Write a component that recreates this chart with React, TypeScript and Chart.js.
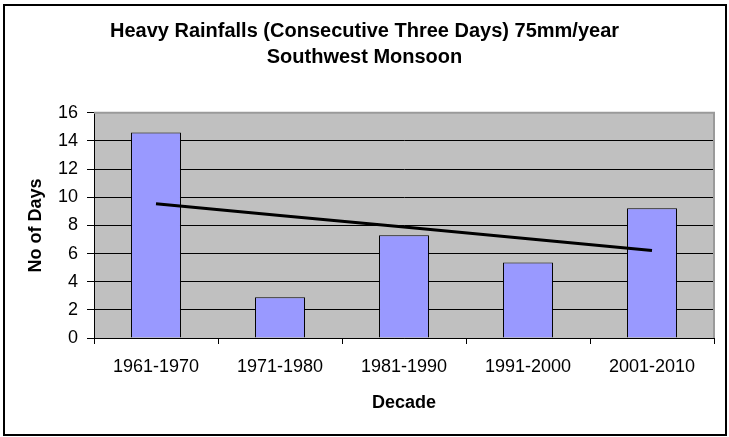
import React, { useEffect, useRef } from "react";
import { Chart, registerables } from "chart.js";

Chart.register(...registerables);

const decades = ["1961-1970", "1971-1980", "1981-1990", "1991-2000", "2001-2010"];
const heavyRainDays = [14.6, 2.9, 7.3, 5.36, 9.22];
const trendDays = [9.54, 8.71, 7.88, 7.05, 6.22];
const titleLines = ["Heavy Rainfalls (Consecutive Three Days) 75mm/year", "Southwest Monsoon"];
const xTitle = "Decade";
const yTitle = "No of Days";

const FONT = "'Liberation Sans', Arial, Helvetica, sans-serif";

const plotBg = {
  id: "plotBg",
  beforeDraw(chart: any) {
    const { ctx, chartArea } = chart;
    ctx.save();
    ctx.fillStyle = "#c0c0c0";
    ctx.fillRect(chartArea.left, chartArea.top, chartArea.right - chartArea.left, chartArea.bottom - chartArea.top);
    ctx.restore();
  },
  beforeDatasetsDraw(chart: any) {
    const { ctx, chartArea } = chart;
    ctx.save();
    ctx.strokeStyle = "#9a9a9a";
    ctx.lineWidth = 2;
    ctx.beginPath();
    ctx.moveTo(chartArea.left, chartArea.top);
    ctx.lineTo(chartArea.right, chartArea.top);
    ctx.lineTo(chartArea.right, chartArea.bottom);
    ctx.stroke();
    ctx.restore();
  },
};

export default function App() {
  const ref = useRef<HTMLCanvasElement | null>(null);

  useEffect(() => {
    document.body.style.margin = "0";
    const canvas = ref.current;
    if (!canvas) return;
    const chart = new Chart(canvas, {
      type: "bar",
      data: {
        labels: decades,
        datasets: [
          {
            type: "line",
            data: trendDays,
            borderColor: "#000",
            borderWidth: 3,
            pointRadius: 0,
            fill: false,
            order: 0,
          } as any,
          {
            type: "bar",
            data: heavyRainDays,
            backgroundColor: "#9999ff",
            borderColor: "#000",
            borderWidth: 1,
            categoryPercentage: 1,
            barPercentage: 0.403,
            order: 1,
          },
        ],
      },
      options: {
        responsive: false,
        animation: false,
        layout: { padding: { left: 0, right: 0, top: 0, bottom: 0 } },
        plugins: {
          legend: { display: false },
          tooltip: { enabled: false },
          title: {
            display: true,
            text: titleLines,
            color: "#000",
            font: { family: FONT, size: 20, weight: "bold", lineHeight: 1.27 },
            padding: { top: 19, bottom: 43 },
          },
        },
        scales: {
          x: {
            offset: true,
            afterFit: (s: any) => {
              s.height = 99;
            },
            grid: {
              offset: true,
              drawOnChartArea: false,
              drawTicks: true,
              tickLength: 6,
              color: "#000",
            },
            border: { display: true, color: "#000", width: 1 },
            ticks: {
              color: "#000",
              padding: 12,
              font: { family: FONT, size: 18 },
              maxRotation: 0,
            },
            title: {
              display: true,
              text: xTitle,
              color: "#000",
              font: { family: FONT, size: 18, weight: "bold" },
              padding: { top: 0, bottom: 23 },
            },
          },
          y: {
            min: 0,
            max: 16,
            afterFit: (s: any) => {
              s.width = 94;
            },
            grid: {
              color: (c: any) => (c.tick && c.tick.value === 16 ? "#9a9a9a" : "#000"),
              tickColor: "#000",
              lineWidth: 1,
              drawTicks: true,
              tickLength: 7,
            },
            border: { display: true, color: "#000", width: 1 },
            ticks: {
              stepSize: 2,
              color: "#000",
              padding: 9,
              font: { family: FONT, size: 18 },
            },
            title: {
              display: true,
              text: yTitle,
              color: "#000",
              font: { family: FONT, size: 18, weight: "bold" },
              padding: { top: 25, bottom: 0 },
            },
          },
          spacer: {
            type: "linear",
            position: "right",
            display: true,
            afterFit: (s: any) => {
              s.width = 15;
            },
            grid: { display: false, drawOnChartArea: false, drawTicks: false },
            border: { display: false },
            ticks: { display: false },
            title: { display: false },
          } as any,
        },
      },
      plugins: [plotBg],
    });
    return () => chart.destroy();
  }, []);

  return (
    <div style={{ position: "fixed", left: 0, top: 0, width: 729, height: 437, background: "#fff" }}>
      <canvas ref={ref} width={729} height={437} style={{ position: "absolute", left: 0, top: 0, width: 729, height: 437 }} />
      <div
        style={{
          position: "absolute",
          left: 3,
          top: 4,
          width: 724,
          height: 432,
          border: "2px solid #000",
          boxSizing: "border-box",
          pointerEvents: "none",
        }}
      />
    </div>
  );
}
